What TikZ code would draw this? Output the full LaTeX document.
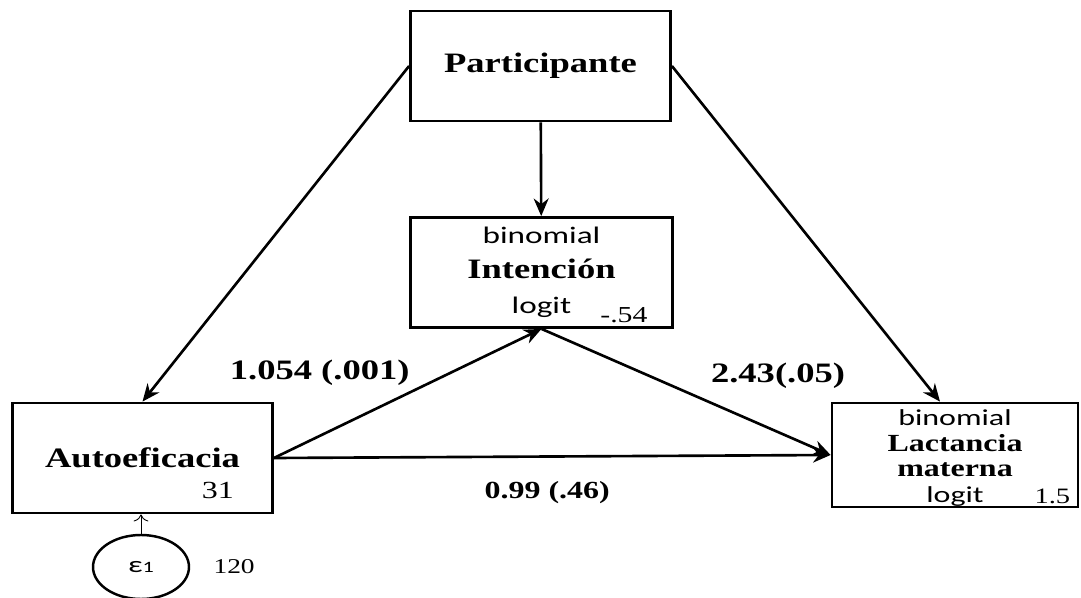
\documentclass[tikz,border=0pt]{standalone}
\usepackage{fontspec}
\usetikzlibrary{arrows.meta,positioning,shapes.geometric}
\newfontfamily\labelfont[FakeStretch=1.3]{Liberation Serif}
\newfontfamily\typefont[FakeStretch=1.4]{Carlito}
\newcommand{\varname}[2][16]{{\labelfont\bfseries\fontsize{#1}{18}\selectfont #2}}
\newcommand{\linkname}[2][13.5]{{\typefont\fontsize{#1}{15}\selectfont #2}}

\begin{document}
\begin{tikzpicture}[
  box/.style={draw, line width=1.6pt, minimum width=5.2cm, minimum height=2.2cm, align=center, inner sep=2pt},
  arr/.style={-{Stealth[length=10pt,width=8.5pt]}, line width=1.5pt},
  coef/.style={font=\labelfont\bfseries\fontsize{16}{18}\selectfont},
  num/.style={font=\labelfont\fontsize{12.5}{14}\selectfont, inner sep=0pt, anchor=base}
]
\useasboundingbox (0,0) rectangle (21.62,-11.96);

\node[box] (Part) at (10.81,-1.32) {\varname{Participante}};
\node[box, minimum width=5.24cm, font=\fontsize{13}{20}\selectfont] (Int) at (10.83,-5.45)
  {\linkname{binomial}\\\varname{Intención}\\\linkname{logit}};
\node[box] (Auto) at (2.85,-9.16) {\varname{Autoeficacia}};
\node[box, minimum width=4.92cm, minimum height=2.08cm, inner ysep=0pt, font=\fontsize{13}{14.5}\selectfont] (Lact) at (19.1,-9.1)
  {\rule{0pt}{12.5pt}\linkname[13]{binomial}\\\varname[14]{Lactancia}\\\varname[14]{materna}\\\linkname[13]{logit}};
\node[ellipse, draw, line width=1.4pt, minimum width=1.92cm, minimum height=1.28cm] (Err) at (2.82,-11.34)
  {\typefont\fontsize{13}{14}\selectfont ε{\fontsize{9}{9}\selectfont 1}};

% values on the boxes
\node[num, font=\labelfont\fontsize{13}{14}\selectfont] (IntVal) at ([xshift=-1.0cm,yshift=0.12cm]Int.south east) {-.54};
\node[num, font=\labelfont\fontsize{14}{16}\selectfont] (AutoVal) at ([xshift=-1.12cm,yshift=0.32cm]Auto.south east) {31};
\node[num] (LactVal) at ([xshift=-0.54cm,yshift=0.1cm]Lact.south east) {1.5};
\node[num, anchor=west, right=0.46cm of Err, font=\labelfont\fontsize{12}{14}\selectfont] (ErrVal) {120};

% paths
\draw[arr] (Part.west) -- (Auto.north);
\draw[arr] (Part.east) -- ([xshift=-0.3cm]Lact.north);
\draw[arr] (Part) -- (Int);
\draw[arr] (Auto.east) -- (Int.south) node[coef, midway, xshift=-1.76cm, yshift=0.42cm]{1.054 (.001)};
\draw[arr] (Int.south) -- (Lact.west) node[coef, midway, xshift=1.84cm, yshift=0.32cm]{2.43(.05)};
\draw[arr] (Auto.east) -- (Lact.west) node[coef, midway, xshift=-0.1cm, yshift=-0.72cm, font=\labelfont\bfseries\fontsize{14}{16}\selectfont]{0.99 (.46)};
\draw[-{To[length=4pt]}, line width=0.5pt] (Err.north) -- (Err.north |- Auto.south);
\end{tikzpicture}
\end{document}
